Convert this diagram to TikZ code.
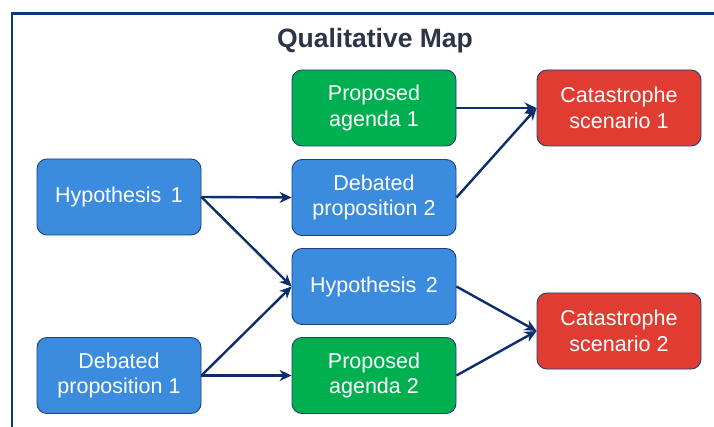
\documentclass[tikz,border=0pt]{standalone}
\usepackage{fontspec}
\setmainfont{Liberation Sans}
\usetikzlibrary{arrows.meta}
\definecolor{frameblue}{HTML}{0E3880}
\definecolor{nodeblue}{HTML}{3B8CDE}
\definecolor{nodegreen}{HTML}{00B050}
\definecolor{nodered}{HTML}{E03C31}
\definecolor{edgeblue}{HTML}{1F3F7A}
\definecolor{arrowblue}{HTML}{0C2E6E}
\definecolor{titlegray}{HTML}{2B3547}
\tikzset{
  box/.style={draw=edgeblue, line width=0.9pt, rounded corners=10pt,
    minimum width=164pt, minimum height=76pt, align=center, text=white,
    font=\fontsize{21.5}{25.5}\selectfont, inner sep=0pt},
  bluebox/.style={box, fill=nodeblue},
  greenbox/.style={box, fill=nodegreen},
  redbox/.style={box, fill=nodered},
  conn/.style={draw=arrowblue, line width=2.4pt, -{Stealth[length=12pt,width=11pt]}},
}
\begin{document}
\begin{tikzpicture}[x=1pt,y=-1pt]
\useasboundingbox (0,0) rectangle (714,427);
\fill[white] (0,0) rectangle (714,427);
\draw[frameblue, line width=2.2pt] (11.8,427) -- (11.8,13.6) -- (714,13.6);
\node[font=\bfseries\fontsize{26.5}{30}\selectfont, text=titlegray] (title) at (375,41) {Qualitative Map};

\node[bluebox] (h1) at (119,197) {Hypothesis\, 1};
\node[bluebox] (dp1) at (119,375.5) {Debated\\proposition 1};
\node[greenbox] (pa1) at (374,108) {Proposed\\agenda 1};
\node[bluebox] (dp2) at (374,197.5) {Debated\\proposition 2};
\node[bluebox] (h2) at (374,286.5) {Hypothesis\, 2};
\node[greenbox] (pa2) at (374,375.5) {Proposed\\agenda 2};
\node[redbox] (c1) at (619,108) {Catastrophe\\scenario 1};
\node[redbox] (c2) at (619,331) {Catastrophe\\scenario 2};

\draw[conn] (h1.east) -- (dp2.west);
\draw[conn] (h1.east) -- (h2.west);
\draw[conn] (dp1.east) -- (h2.west);
\draw[conn] (dp1.east) -- (pa2.west);
\draw[conn] (pa1.east) -- (c1.west);
\draw[conn] (dp2.east) -- (c1.west);
\draw[conn] (h2.east) -- (c2.west);
\draw[conn] (pa2.east) -- (c2.west);
\end{tikzpicture}
\end{document}
